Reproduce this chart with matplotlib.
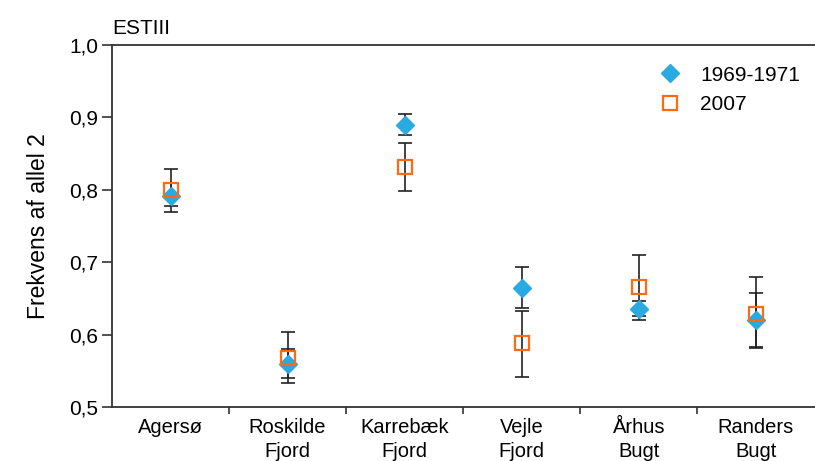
import matplotlib.pyplot as plt
import numpy as np

plt.rcParams['font.family'] = ['Liberation Sans', 'DejaVu Sans']

sites = ["Agersø", "Roskilde\nFjord", "Karrebæk\nFjord", "Vejle\nFjord", "Århus\nBugt", "Randers\nBugt"]

# 1969-1971 (diamonds)
old_val = [0.791, 0.560, 0.890, 0.665, 0.635, 0.620]
old_lo = [0.770, 0.533, 0.875, 0.637, 0.626, 0.583]
old_hi = [0.809, 0.580, 0.905, 0.693, 0.646, 0.657]

# 2007 (squares)
new_val = [0.800, 0.568, 0.832, 0.588, 0.666, 0.629]
new_lo = [0.777, 0.540, 0.799, 0.542, 0.620, 0.581]
new_hi = [0.829, 0.604, 0.864, 0.633, 0.710, 0.679]

blue = "#29abe2"
orange = "#ff6a13"

fig = plt.figure(figsize=(8.15, 4.61), dpi=100)
ax = fig.add_axes([0.1374, 0.1171, 0.862, 0.7853])

x = np.arange(len(sites)) + 0.5
old_err = [np.array(old_val) - np.array(old_lo), np.array(old_hi) - np.array(old_val)]
new_err = [np.array(new_val) - np.array(new_lo), np.array(new_hi) - np.array(new_val)]

ax.errorbar(x, old_val, yerr=old_err, fmt="none", ecolor="#222222", elinewidth=1.2, capsize=5, capthick=1.2, zorder=2)
ax.errorbar(x, new_val, yerr=new_err, fmt="none", ecolor="#222222", elinewidth=1.2, capsize=5, capthick=1.2, zorder=2)
ax.plot(x, old_val, "D", color=blue, markersize=9, linestyle="none", label="1969-1971", zorder=3)
ax.plot(x, new_val, "s", markerfacecolor="none", markeredgecolor=orange, markeredgewidth=1.6,
        markersize=10.5, linestyle="none", label="2007", zorder=4)

ax.set_xlim(0, 6)
ax.set_ylim(0.5, 1.0)
ax.set_yticks([0.5, 0.6, 0.7, 0.8, 0.9, 1.0])
ax.set_yticklabels(["0,5", "0,6", "0,7", "0,8", "0,9", "1,0"], fontsize=15)
ax.set_xticks([1, 2, 3, 4, 5])
ax.set_xticklabels([])
ax.set_xticks(x, minor=True)
ax.set_xticklabels(sites, minor=True, fontsize=14.5, linespacing=1.3)
ax.tick_params(axis="x", which="minor", length=0, pad=8)
ax.tick_params(axis="x", which="major", length=5, width=1.2, color="#333333")
ax.tick_params(axis="y", length=7, width=1.2, color="#333333", pad=3)

ax.spines["right"].set_visible(False)
for s in ["left", "bottom", "top"]:
    ax.spines[s].set_linewidth(1.3)
    ax.spines[s].set_color("#333333")

ax.set_ylabel("Frekvens af allel 2", fontsize=16.5, labelpad=14)
ax.set_title("ESTIII", loc="left", fontsize=15, pad=8)

ax.legend(loc="upper right", frameon=False, fontsize=15, handletextpad=0.45,
          borderaxespad=0.3, labelspacing=0.5, bbox_to_anchor=(1.0, 0.983))

fig.savefig("out.png", dpi=100)
